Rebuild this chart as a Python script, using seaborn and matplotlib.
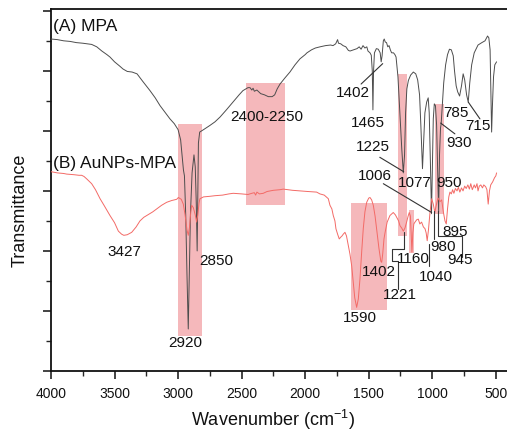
import numpy as np
import pandas as pd
import matplotlib
matplotlib.use("Agg")
import matplotlib.pyplot as plt
from matplotlib.patches import Rectangle
from matplotlib.ticker import MultipleLocator
import seaborn as sns

wn_mpa = [4000, 3950, 3900, 3850, 3800, 3750, 3717, 3680, 3640, 3600, 3560, 3536, 3500, 3460, 3433,
          3400, 3362, 3323, 3280, 3221, 3180, 3142, 3100, 3064, 3030, 3000, 2980, 2965, 2958, 2950,
          2940, 2930, 2920, 2912, 2903, 2890, 2875, 2865, 2857, 2850, 2845, 2840, 2830, 2800, 2750,
          2710, 2670, 2620, 2568, 2520, 2490, 2450, 2434, 2420, 2410, 2400, 2380, 2350, 2320, 2290,
          2260, 2240, 2220, 2198, 2160, 2120, 2080, 2041, 2000, 1986, 1950, 1920, 1883, 1840, 1800,
          1781, 1760, 1745, 1738, 1720, 1702, 1680, 1660, 1647, 1620, 1592, 1575, 1560, 1545, 1530,
          1515, 1506, 1490, 1480, 1472, 1467, 1462, 1455, 1440, 1425, 1410, 1402, 1395, 1385, 1378,
          1370, 1360, 1350, 1340, 1330, 1320, 1305, 1294, 1285, 1270, 1255, 1240, 1228, 1218, 1210,
          1200, 1188, 1170, 1149, 1130, 1115, 1100, 1090, 1077, 1068, 1058, 1044, 1032, 1024, 1015,
          1006, 1000, 992, 984, 975, 966, 958, 950, 943, 935, 930, 922, 910, 895, 880,
          865, 850, 835, 825, 812, 800, 785, 770, 757, 745, 730, 717, 705, 690, 670,
          640, 610, 585, 565, 555, 545, 538, 533, 527, 518, 508, 494]
t_mpa = [5.53, 5.52, 5.50, 5.49, 5.47, 5.46, 5.45, 5.44, 5.40, 5.33, 5.27, 5.23, 5.15, 5.08, 5.03,
         4.99, 4.98, 4.95, 4.83, 4.67, 4.55, 4.42, 4.30, 4.20, 4.12, 4.02, 3.85, 3.50, 3.35, 3.25,
         2.60, 1.60, 0.70, 1.60, 2.60, 3.30, 3.60, 3.40, 2.80, 2.00, 2.90, 3.80, 3.98, 4.02, 4.09,
         4.15, 4.23, 4.35, 4.48, 4.60, 4.67, 4.72, 4.72, 4.68, 4.71, 4.66, 4.68, 4.62, 4.60, 4.57,
         4.57, 4.60, 4.70, 4.78, 4.88, 4.98, 5.10, 5.20, 5.27, 5.30, 5.35, 5.38, 5.40, 5.42, 5.43,
         5.42, 5.45, 5.52, 5.46, 5.45, 5.42, 5.40, 5.34, 5.33, 5.35, 5.37, 5.40, 5.36, 5.42, 5.38,
         5.40, 5.33, 5.30, 5.26, 5.00, 4.35, 5.00, 5.30, 5.37, 5.36, 5.30, 5.15, 5.25, 5.50, 5.53,
         5.48, 5.47, 5.40, 5.42, 5.35, 5.30, 5.30, 5.27, 5.23, 4.90, 4.30, 3.70, 3.30, 3.60, 4.30,
         4.70, 4.84, 4.93, 4.98, 4.95, 4.85, 4.60, 4.10, 3.37, 3.80, 4.30, 4.48, 4.55, 4.30, 3.50,
         2.62, 3.30, 4.20, 4.45, 4.42, 4.10, 3.40, 2.65, 3.60, 4.05, 4.12, 4.40, 4.80, 5.10, 5.27,
         5.36, 5.35, 5.25, 5.00, 4.75, 4.65, 4.58, 4.75, 4.95, 4.85, 4.60, 4.48, 4.80, 5.10, 5.30,
         5.43, 5.47, 5.50, 5.58, 5.55, 5.35, 4.60, 3.98, 4.40, 4.90, 5.10, 5.15]

wn_au = [4000, 3950, 3900, 3877, 3820, 3780, 3759, 3740, 3719, 3700, 3680, 3650, 3614, 3580, 3536,
         3500, 3470, 3445, 3427, 3400, 3365, 3330, 3300, 3270, 3247, 3200, 3168, 3130, 3090, 3050,
         3011, 2998, 2975, 2959, 2945, 2930, 2920, 2910, 2900, 2893, 2880, 2865, 2854, 2845, 2835,
         2828, 2800, 2750, 2710, 2650, 2600, 2566, 2500, 2450, 2420, 2400, 2390, 2380, 2360, 2330,
         2300, 2250, 2198, 2172, 2100, 2041, 1980, 1910, 1884, 1850, 1818, 1805, 1790, 1779, 1766,
         1758, 1745, 1732, 1720, 1710, 1700, 1687, 1675, 1661, 1648, 1634, 1620, 1610, 1595, 1582,
         1569, 1555, 1543, 1530, 1516, 1500, 1490, 1477, 1464, 1450, 1438, 1420, 1405, 1398, 1390,
         1380, 1372, 1355, 1333, 1307, 1290, 1280, 1265, 1254, 1240, 1228, 1215, 1202, 1190, 1181,
         1172, 1166, 1160, 1153, 1145, 1136, 1122, 1110, 1098, 1084, 1070, 1057, 1048, 1040, 1030,
         1018, 1005, 992, 980, 970, 960, 953, 940, 926, 913, 900, 890, 880, 870, 861,
         850, 840, 830, 818, 805, 795, 783, 770, 758, 745, 733, 720, 708, 697, 685,
         670, 660, 648, 640, 630, 618, 605, 595, 580, 570, 560, 550, 540, 525, 510,
         500, 494]
t_au = [3.32, 3.30, 3.29, 3.28, 3.27, 3.26, 3.26, 3.24, 3.20, 3.16, 3.12, 3.02, 2.87, 2.75, 2.59,
        2.47, 2.33, 2.28, 2.26, 2.27, 2.31, 2.40, 2.50, 2.56, 2.59, 2.65, 2.70, 2.76, 2.81, 2.84,
        2.86, 2.89, 2.86, 2.78, 2.60, 2.35, 2.26, 2.40, 2.65, 2.76, 2.72, 2.60, 2.48, 2.60, 2.80,
        2.87, 2.90, 2.91, 2.92, 2.93, 2.95, 2.96, 2.95, 2.94, 2.96, 2.97, 2.93, 2.98, 2.95, 2.96,
        2.99, 3.01, 3.02, 3.03, 3.01, 3.00, 2.99, 2.98, 2.95, 2.93, 2.87, 2.76, 2.70, 2.59, 2.50,
        2.37, 2.28, 2.20, 2.23, 2.25, 2.28, 2.31, 2.25, 2.09, 1.95, 1.75, 1.45, 1.22, 1.06, 1.20,
        1.53, 2.00, 2.37, 2.65, 2.81, 2.88, 2.89, 2.85, 2.76, 2.58, 2.37, 2.05, 1.83, 1.81, 1.95,
        2.20, 2.30, 2.48, 2.59, 2.64, 2.60, 2.56, 2.50, 2.42, 2.38, 2.33, 2.38, 2.48, 2.58, 2.64,
        2.58, 2.30, 1.98, 2.30, 2.45, 2.48, 2.52, 2.53, 2.45, 2.48, 2.40, 2.37, 2.30, 2.17, 2.35,
        2.64, 2.87, 2.78, 2.64, 2.75, 2.84, 2.88, 2.82, 2.85, 2.65, 2.50, 2.45, 2.70, 2.90, 2.98,
        2.95, 3.02, 2.96, 3.04, 3.00, 3.06, 2.98, 3.05, 3.00, 3.08, 3.04, 3.10, 3.03, 3.12, 3.02,
        3.10, 3.05, 3.12, 3.00, 3.08, 3.10, 3.05, 3.10, 3.07, 3.02, 2.78, 3.00, 3.10, 3.15, 3.22,
        3.25, 3.30]

# faixas destacadas: (número de onda alto, baixo, transmitância inferior, superior)
bandas = [(3000, 2810, 0.58, 4.12), (2466, 2159, 2.77, 4.80), (1642, 1359, 1.02, 2.80),
          (1272, 1199, 2.25, 4.95), (1183, 1142, 1.97, 2.68), (976, 905, 2.62, 4.44)]

# rótulos dos picos: (texto, número de onda, transmitância)
rotulos = [("2400-2250", 2300, 4.245), ("1402", 1624, 4.655), ("1465", 1504, 4.155),
           ("1225", 1464, 3.74), ("1006", 1455, 3.27), ("1077", 1134, 3.14), ("950", 870, 3.14),
           ("785", 815, 4.31), ("930", 790, 3.81), ("715", 638, 4.10),
           ("3427", 3424, 2.005), ("2850", 2703, 1.855), ("2920", 2943, 0.478),
           ("1590", 1566, 0.894), ("1402", 1418, 1.67), ("1221", 1256, 1.29), ("1160", 1152, 1.88),
           ("1040", 969, 1.59), ("980", 917, 2.09), ("895", 824, 2.34), ("945", 784, 1.87)]

# linhas de ligação entre rótulo e pico
ligacoes = [
    ([1560, 1390], [4.78, 5.12]),
    ([1413, 1225], [3.56, 3.32]),
    ([1385, 1005], [3.12, 2.64]),
    ([934, 822], [4.13, 3.95]),
    ([717, 625], [4.48, 4.20]),
    ([1223, 1223, 1320, 1320, 1272, 1272], [2.31, 2.033, 2.033, 1.84, 1.84, 1.367]),
    ([1024, 1024], [2.12, 1.745]),
    ([984, 984], [2.67, 2.20]),
    ([953, 953, 764, 764], [2.67, 2.245, 2.245, 1.90]),
]

df_mpa = pd.DataFrame({"wn": wn_mpa, "T": t_mpa})
df_au = pd.DataFrame({"wn": wn_au, "T": t_au})

# --- estilo ---
sns.set_style("ticks")
plt.rcParams["font.family"] = ["Liberation Sans", "DejaVu Sans"]
plt.rcParams["mathtext.fontset"] = "custom"
plt.rcParams["mathtext.rm"] = "Liberation Sans"
plt.rcParams["mathtext.it"] = "Liberation Sans"

fig = plt.figure(figsize=(5.07, 4.31), dpi=100)
ax = fig.add_axes([51 / 507, 59 / 431, 456 / 507, 362 / 431])

for hi, lo, bot, top in bandas:
    ax.add_patch(Rectangle((lo, bot), hi - lo, top - bot, facecolor="#f5b8bb",
                           edgecolor="none", zorder=1))

sns.lineplot(data=df_mpa, x="wn", y="T", sort=False, estimator=None, color="#4d4d4d",
             linewidth=0.7, ax=ax, zorder=3)
sns.lineplot(data=df_au, x="wn", y="T", sort=False, estimator=None, color="#f36a66",
             linewidth=0.7, ax=ax, zorder=3)

for xs, ys in ligacoes:
    ax.plot(xs, ys, color="#333333", linewidth=0.8, zorder=4)

for txt, x, y in rotulos:
    ax.text(x, y, txt, ha="center", va="center", fontsize=11, color="#111111", zorder=5)

ax.text(3985, 5.75, "(A) MPA", ha="left", va="center", fontsize=12.5, color="#111111")
ax.text(3985, 3.48, "(B) AuNPs-MPA", ha="left", va="center", fontsize=12.5, color="#111111")

ax.set_xlim(4000, 412)
ax.set_ylim(0, 6.03)
ax.xaxis.set_major_locator(MultipleLocator(500))
ax.xaxis.set_minor_locator(MultipleLocator(250))
ax.yaxis.set_major_locator(MultipleLocator(1))
ax.yaxis.set_minor_locator(MultipleLocator(0.5))
ax.set_yticklabels([])
ax.tick_params(axis="both", which="major", length=6, width=1.1, direction="out",
               labelsize=10, pad=5, colors="#111111")
ax.tick_params(axis="both", which="minor", length=3.5, width=1.0, direction="out")
ax.tick_params(top=False, right=False, which="both")

for s in ["left", "bottom", "top"]:
    ax.spines[s].set_linewidth(1.3)
    ax.spines[s].set_color("#111111")
ax.spines["right"].set_visible(False)

ax.set_xlabel("Wavenumber (cm$^{-1}$)", fontsize=13, color="#111111")
ax.set_ylabel("Transmittance", fontsize=13, color="#111111")
ax.xaxis.set_label_coords(0.486, -0.1)
ax.yaxis.set_label_coords(-0.048, 0.4475)

fig.savefig("out.png", dpi=100)
